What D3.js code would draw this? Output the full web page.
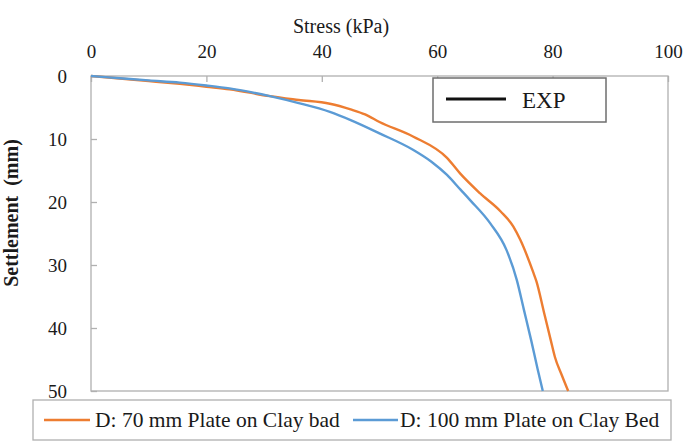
<!DOCTYPE html>
<html>
<head>
<meta charset="utf-8">
<script src="https://cdn.jsdelivr.net/npm/d3@7"></script>
<style>
  body { margin: 0; background: #fff; }
  svg text { font-family: "Liberation Serif", "Times New Roman", serif !important; fill: #1a1a1a; }
</style>
</head>
<body>
<div id="chart"></div>
<script>
// Series data: [stress (kPa), settlement (mm)]
var plate70 = [
  [0, 0], [5, 0.4], [10, 0.8], [15.4, 1.25], [20, 1.7], [24, 2.1], [31, 3.2],
  [36, 3.8], [41.4, 4.4], [45, 5.3], [47.5, 6.1], [50, 7.3], [55.8, 9.6],
  [61.7, 13.0], [64, 15.5], [67.4, 18.6], [71, 21.5], [73.2, 23.9], [74.4, 26],
  [76.7, 31.3], [77.2, 32.6], [78.5, 37.5], [79.7, 42], [80.4, 44.6],
  [81.6, 47.5], [82.7, 50]
];
var plate100 = [
  [0, 0], [5, 0.35], [10, 0.7], [15.4, 1.05], [20, 1.5], [24, 1.96], [31, 3.2],
  [36, 4.3], [41.4, 5.7], [45, 7.0], [50, 9.1], [55.8, 11.7], [59, 13.6],
  [61.7, 15.7], [64, 18], [65.7, 19.7], [69.2, 23.4], [72, 27.6], [73.8, 32.4],
  [75, 37], [76.3, 42], [77.4, 46.5], [78.3, 50]
];
var seriesNames = ["D: 70 mm Plate on Clay bad", "D: 100 mm Plate on Clay Bed"];
var seriesColors = ["#ED7D31", "#5B9BD5"];
var xTicks = [0, 20, 40, 60, 80, 100];
var yTicks = [0, 10, 20, 30, 40, 50];

var svgWidth = 688;
var svgHeight = 441;

var plot = { left: 91, right: 668, top: 76, bottom: 391 };
var serif = "Liberation Serif";

var svg = d3.select("#chart")
  .append("svg")
  .attr("width", svgWidth)
  .attr("height", svgHeight)
  .attr("font-family", serif);

var xScale = d3.scaleLinear().domain([0, 100]).range([plot.left, plot.right]);
var yScale = d3.scaleLinear().domain([0, 50]).range([plot.top, plot.bottom]);

// plot border
svg.append("rect")
  .attr("x", plot.left)
  .attr("y", plot.top)
  .attr("width", plot.right - plot.left)
  .attr("height", plot.bottom - plot.top)
  .attr("fill", "none")
  .attr("stroke", "#b0b0b0")
  .attr("stroke-width", 1.3);

// top x axis, ticks pointing inward
var xAxis = svg.append("g")
  .attr("transform", `translate(0, ${plot.top})`)
  .call(d3.axisTop(xScale).tickValues(xTicks).tickSize(-6).tickPadding(18));
xAxis.attr("font-family", serif).attr("font-size", 19);
xAxis.select(".domain").remove();
xAxis.selectAll("line").attr("stroke", "#b0b0b0").attr("stroke-width", 1.3);
xAxis.selectAll("text").attr("fill", "#1a1a1a");

// left y axis
var yAxis = svg.append("g")
  .attr("transform", `translate(${plot.left}, 0)`)
  .call(d3.axisLeft(yScale).tickValues(yTicks).tickSize(-6).tickPadding(24));
yAxis.attr("font-family", serif).attr("font-size", 19);
yAxis.select(".domain").remove();
yAxis.selectAll("line").attr("stroke", "#b0b0b0").attr("stroke-width", 1.3);
yAxis.selectAll("text").attr("fill", "#1a1a1a");

// axis titles
svg.append("text")
  .attr("x", 341)
  .attr("y", 33)
  .attr("text-anchor", "middle")
  .attr("font-size", 20)
  .text("Stress (kPa)");

svg.append("text")
  .attr("transform", "translate(18, 213) rotate(-90)")
  .attr("text-anchor", "middle")
  .attr("font-size", 20)
  .attr("font-weight", "bold")
  .text("Settlement\u00a0 (mm)");

// curves
var line = d3.line()
  .x(d => xScale(d[0]))
  .y(d => yScale(d[1]))
  .curve(d3.curveMonotoneX);

[plate70, plate100].forEach(function(series, i) {
  svg.append("path")
    .attr("d", line(series))
    .attr("fill", "none")
    .attr("stroke", seriesColors[i])
    .attr("stroke-width", 2.4)
    .attr("stroke-linejoin", "round");
});

// EXP legend box
var expBox = svg.append("g");
expBox.append("rect")
  .attr("x", 433).attr("y", 78)
  .attr("width", 173).attr("height", 44)
  .attr("fill", "#fff")
  .attr("stroke", "#6e6e6e")
  .attr("stroke-width", 1.5);
expBox.append("line")
  .attr("x1", 446).attr("x2", 506)
  .attr("y1", 99).attr("y2", 99)
  .attr("stroke", "#111")
  .attr("stroke-width", 3);
expBox.append("text")
  .attr("x", 522).attr("y", 108)
  .attr("font-size", 23)
  .text("EXP");

// bottom legend
var legend = svg.append("g");
legend.append("rect")
  .attr("x", 33).attr("y", 400)
  .attr("width", 638).attr("height", 40)
  .attr("fill", "#fff")
  .attr("stroke", "#b0b0b0")
  .attr("stroke-width", 1.3);

var legendItems = [
  { x1: 44, x2: 90, tx: 95 },
  { x1: 353, x2: 398, tx: 400 }
];
legendItems.forEach(function(item, i) {
  legend.append("line")
    .attr("x1", item.x1).attr("x2", item.x2)
    .attr("y1", 420).attr("y2", 420)
    .attr("stroke", seriesColors[i])
    .attr("stroke-width", 2.4);
  legend.append("text")
    .attr("x", item.tx)
    .attr("y", 427)
    .attr("font-size", 21.5)
    .text(seriesNames[i]);
});
</script>
</body>
</html>
